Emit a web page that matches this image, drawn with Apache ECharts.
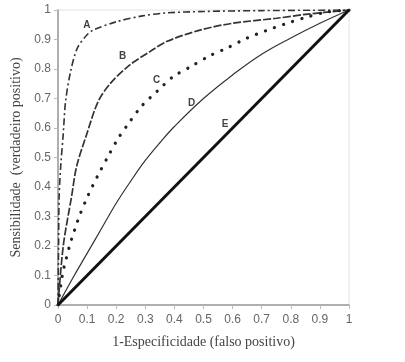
<!DOCTYPE html>
<html>
<head>
<meta charset="utf-8">
<script src="https://cdn.jsdelivr.net/npm/echarts@6/dist/echarts.min.js"></script>
<style>
  html, body { margin: 0; padding: 0; background: #fff; }
  #main { width: 405px; height: 362px; }
</style>
</head>
<body>
<div id="main"></div>
<script>
// ROC curves as [1-especificidade, sensibilidade]
var curveA = [[0,0],[0.002,0.2],[0.004,0.37],[0.01,0.48],[0.018,0.58],[0.026,0.69],[0.043,0.79],[0.066,0.87],[0.099,0.915],[0.121,0.932],[0.2,0.96],[0.29,0.98],[0.37,0.99],[0.5,0.995],[0.7,0.998],[1,1]];
var curveB = [[0,0],[0.018,0.2],[0.047,0.37],[0.064,0.47],[0.099,0.58],[0.138,0.69],[0.179,0.75],[0.247,0.814],[0.316,0.859],[0.373,0.893],[0.488,0.932],[0.6,0.955],[0.751,0.972],[0.85,0.985],[1,1]];
var curveC = [[0,0],[0.016,0.108],[0.026,0.148],[0.041,0.205],[0.053,0.242],[0.064,0.275],[0.076,0.308],[0.104,0.373],[0.136,0.437],[0.17,0.5],[0.205,0.562],[0.245,0.619],[0.288,0.675],[0.341,0.725],[0.396,0.774],[0.456,0.808],[0.52,0.844],[0.585,0.873],[0.648,0.904],[0.715,0.93],[0.781,0.953],[0.849,0.974],[0.918,0.992],[1,1]];
var curveD = [[0,0],[0.05,0.09],[0.1,0.175],[0.15,0.26],[0.2,0.345],[0.25,0.42],[0.3,0.49],[0.35,0.55],[0.4,0.605],[0.5,0.7],[0.6,0.78],[0.7,0.85],[0.8,0.905],[0.9,0.955],[1,1]];
var curveE = [[0,0],[1,1]];
var curveNames = ['A', 'B', 'C', 'D', 'E'];
var labelPoints = [[0.099,0.949],[0.222,0.842],[0.339,0.763],[0.459,0.685],[0.574,0.614]];

var myChart = echarts.init(document.getElementById('main'));
var tickFont = 'Liberation Sans, Arial, sans-serif';
var titleFont = 'Liberation Serif, Times New Roman, serif';

function axisCommon(name, gap) {
    return {
        type: 'value',
        min: 0,
        max: 1,
        interval: 0.1,
        name: name,
        nameLocation: 'middle',
        nameGap: gap,
        nameTextStyle: { fontFamily: titleFont, fontSize: 14, color: '#444' },
        axisLine: { lineStyle: { color: '#999', width: 1.5 } },
        axisTick: { show: true, length: 4, lineStyle: { color: '#bbb' } },
        axisLabel: { fontFamily: tickFont, fontSize: 12, color: '#666', margin: 7 },
        splitLine: { show: false }
    };
}

var option = {
    backgroundColor: '#fff',
    animation: false,
    grid: {
        left: 58, right: 56, top: 10, bottom: 57,
        show: true, borderColor: '#e2e2e2', borderWidth: 1
    },
    xAxis: Object.assign(axisCommon('1-Especificidade (falso positivo)', 30), {
        axisLabel: { fontFamily: tickFont, fontSize: 12, color: '#666', margin: 9 }
    }),
    yAxis: axisCommon('Sensibilidade  (verdadeiro positivo)', 34),
    series: [{
        name: 'A', type: 'line', data: curveA, symbol: 'none', smooth: 0.3,
        lineStyle: { color: '#333', width: 1.6, type: [7, 3, 2, 3] }
    }, {
        name: 'B', type: 'line', data: curveB, symbol: 'none', smooth: 0.3,
        lineStyle: { color: '#333', width: 1.7, type: [8, 2] }
    }, {
        name: 'C', type: 'line', data: curveC, symbol: 'none', smooth: 0.3,
        lineStyle: { color: '#222', width: 3.2, type: [0.1, 9.5], cap: 'round' }
    }, {
        name: 'D', type: 'line', data: curveD, symbol: 'none', smooth: 0.4,
        lineStyle: { color: '#333', width: 1.2 }
    }, {
        name: 'E', type: 'line', data: curveE, symbol: 'none',
        lineStyle: { color: '#111', width: 3 }
    }, {
        type: 'scatter',
        symbolSize: 0,
        data: labelPoints.map(function (p, i) { return { value: p, name: curveNames[i] }; }),
        label: {
            show: true,
            position: 'inside',
            formatter: '{b}',
            fontFamily: tickFont,
            fontWeight: 'bold',
            fontSize: 10,
            color: '#111'
        }
    }]
};
myChart.setOption(option);
</script>
</body>
</html>
